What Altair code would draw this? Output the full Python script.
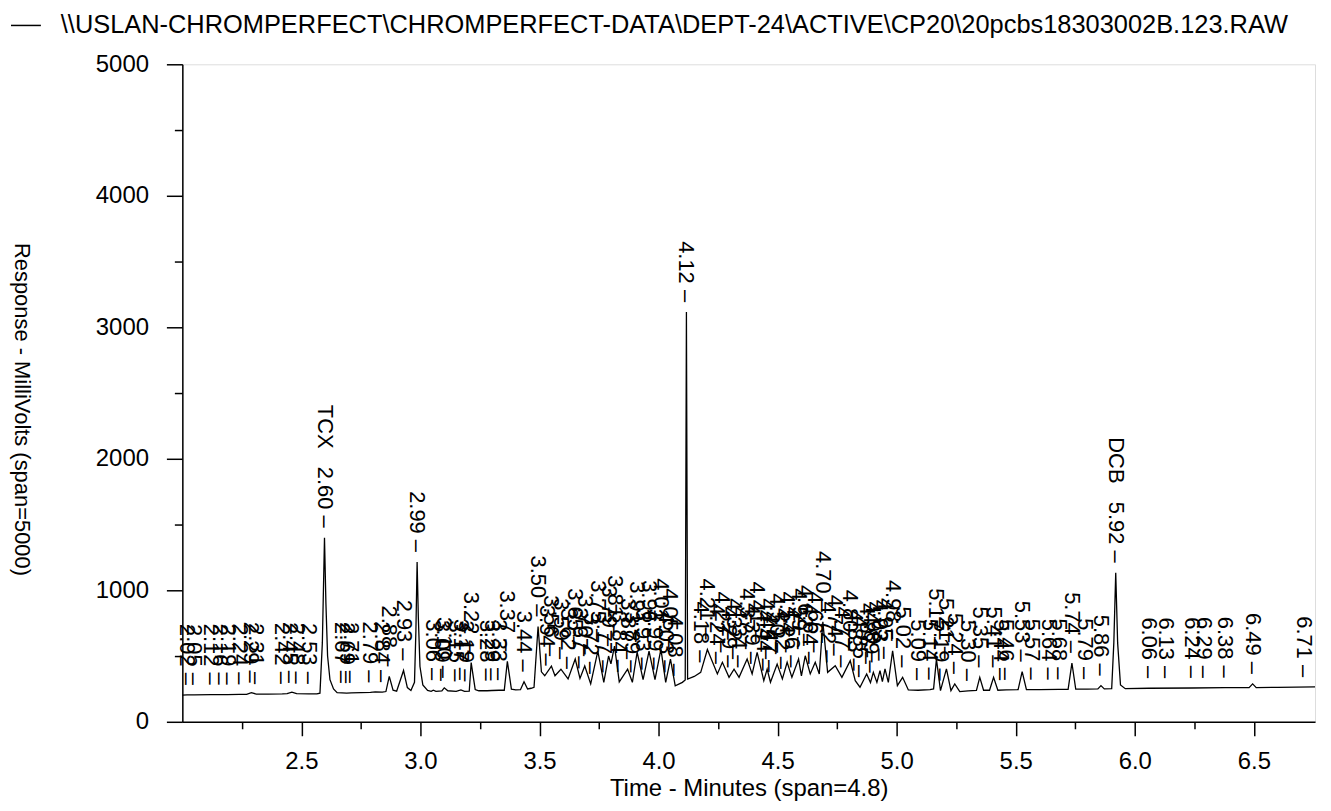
import altair as alt
import pandas as pd

# ---- chromatogram trace vertices (time in minutes, response in mV) ----
seg_a_t = [2.00, 2.02, 2.05, 2.12, 2.16, 2.19, 2.24, 2.27, 2.29, 2.31, 2.36, 2.42, 2.44, 2.46, 2.48, 2.53, 2.565]
seg_a_mv = [203, 204, 205, 206, 207, 207, 208, 209, 222, 211, 210, 212, 214, 226, 214, 213, 212]

seg_b_t = [2.578, 2.588, 2.597, 2.603, 2.61, 2.62, 2.635, 2.65, 2.67, 2.69, 2.71, 2.75, 2.79, 2.81, 2.84,
           2.855, 2.869, 2.885, 2.90, 2.929, 2.945, 2.96, 2.975, 2.981, 2.986, 2.991, 2.998, 3.01, 3.03]
seg_b_mv = [218, 600, 1400, 900, 500, 320, 250, 222, 220, 218, 220, 222, 224, 228, 226,
            230, 345, 240, 233, 390, 260, 238, 300, 700, 1215, 800, 420, 280, 238]

seg_c_t = [3.045, 3.054, 3.065, 3.09, 3.10, 3.115, 3.15, 3.17, 3.185, 3.205, 3.213, 3.23, 3.245, 3.28, 3.30,
           3.33, 3.352, 3.365, 3.382, 3.40, 3.42, 3.435, 3.45, 3.465, 3.477]
seg_c_mv = [232, 240, 232, 235, 258, 236, 232, 242, 232, 234, 450, 245, 236, 236, 238,
            240, 240, 460, 248, 242, 244, 305, 250, 255, 262]

seg_d_t = [3.494, 3.508, 3.522, 3.55, 3.565, 3.59, 3.62, 3.65, 3.67, 3.69, 3.715, 3.745, 3.77, 3.79, 3.80,
           3.815, 3.835, 3.87, 3.89, 3.91, 3.935, 3.96, 3.985, 4.01, 4.03, 4.05, 4.07]
seg_d_mv = [725, 380, 350, 424, 350, 400, 326, 477, 330, 424, 288, 538, 300, 500, 440,
            576, 303, 400, 300, 530, 320, 538, 320, 553, 300, 477, 273]

seg_e_t = [4.10, 4.112, 4.117, 4.122, 4.15, 4.177]
seg_e_mv = [300, 318, 3116, 325, 345, 376]

seg_f_t = [4.205, 4.247, 4.268, 4.296, 4.317, 4.338, 4.372, 4.393, 4.414, 4.442, 4.456, 4.47, 4.498, 4.52,
           4.54, 4.56, 4.588, 4.60, 4.616, 4.637, 4.658, 4.675, 4.69, 4.71]
seg_f_mv = [550, 364, 452, 338, 400, 338, 477, 364, 528, 313, 400, 301, 439, 326,
            452, 338, 477, 350, 502, 364, 452, 364, 760, 376]

seg_g_t = [4.742, 4.77, 4.805, 4.826, 4.846, 4.874, 4.89, 4.902, 4.917, 4.93, 4.94, 4.951, 4.965, 4.983,
           5.003, 5.025, 5.049]
seg_g_mv = [427, 338, 465, 313, 263, 364, 298, 376, 300, 389, 305, 402, 300, 540,
            275, 338, 242]

seg_h_t = [5.09, 5.14, 5.155, 5.167, 5.184, 5.209, 5.228, 5.244, 5.265, 5.30, 5.335, 5.349, 5.365, 5.39,
           5.407, 5.425, 5.46, 5.51, 5.527, 5.545, 5.60, 5.68, 5.72, 5.736, 5.752, 5.80, 5.845, 5.858,
           5.872, 5.903, 5.912, 5.92, 5.928, 5.94, 5.96, 6.06, 6.24, 6.38, 6.48, 6.495, 6.51, 6.60, 6.757]
seg_h_mv = [240, 245, 250, 477, 237, 402, 237, 288, 230, 235, 238, 338, 240, 240,
            338, 240, 242, 245, 381, 245, 245, 246, 247, 447, 248, 248, 250, 275,
            250, 252, 600, 1134, 600, 280, 252, 255, 257, 260, 260, 288, 260, 262, 265]

# ---- peak labels ----
label_t = [2.02, 2.05, 2.12, 2.16, 2.19, 2.24, 2.29, 2.31, 2.42, 2.45, 2.48, 2.53,
           2.597, 2.67, 2.69, 2.71, 2.79, 2.84, 2.869, 2.929, 2.986,
           3.054, 3.09, 3.10, 3.15, 3.17, 3.19, 3.213, 3.28, 3.30, 3.33, 3.365, 3.435,
           3.494, 3.53, 3.55, 3.59, 3.62, 3.65, 3.67, 3.69, 3.715, 3.745, 3.77, 3.79, 3.815, 3.835,
           3.87, 3.89, 3.91, 3.935, 3.96, 3.985, 4.01, 4.03, 4.05, 4.07,
           4.117, 4.177, 4.205, 4.247, 4.268, 4.296, 4.317, 4.338, 4.372, 4.393, 4.414, 4.442, 4.456,
           4.47, 4.498, 4.52, 4.54, 4.56, 4.588, 4.616, 4.637, 4.658, 4.69, 4.71, 4.742, 4.77, 4.805,
           4.826, 4.846, 4.874, 4.89, 4.902, 4.93, 4.951, 4.983, 5.025,
           5.09, 5.14, 5.167, 5.184, 5.209, 5.244, 5.30, 5.349, 5.407, 5.44, 5.46, 5.527, 5.57, 5.64,
           5.68, 5.736, 5.79, 5.858, 5.92, 6.06, 6.13, 6.24, 6.29, 6.38, 6.495, 6.71]
label_mv = [204, 205, 206, 207, 207, 208, 222, 211, 212, 220, 214, 213,
            1400, 220, 218, 220, 224, 226, 345, 390, 1215,
            240, 235, 258, 232, 242, 232, 450, 236, 238, 240, 460, 305,
            725, 350, 424, 400, 326, 477, 330, 424, 288, 538, 300, 500, 576, 303,
            400, 300, 530, 320, 538, 320, 553, 300, 477, 273,
            3116, 376, 550, 364, 452, 338, 400, 338, 477, 364, 528, 313, 400,
            301, 439, 326, 452, 338, 477, 502, 364, 452, 760, 376, 427, 338, 465,
            313, 263, 364, 298, 376, 389, 402, 540, 338,
            240, 245, 477, 237, 402, 288, 235, 338, 338, 241, 242, 381, 245, 245,
            246, 447, 248, 275, 1134, 255, 255, 257, 258, 260, 288, 263]
label_text = ["2.02", "2.05", "2.12", "2.16", "2.19", "2.24", "2.29", "2.31", "2.42", "2.45", "2.48", "2.53",
              "TCX\u00a0\u00a0\u00a02.60", "2.67", "2.69", "2.71", "2.79", "2.84", "2.88", "2.93", "2.99",
              "3.06", "3.09", "3.10", "3.15", "3.17", "3.19", "3.22", "3.28", "3.29", "3.33", "3.37", "3.44",
              "3.50", "3.54", "3.56", "3.59", "3.62", "3.65", "3.67", "3.70", "3.72", "3.75", "3.77", "3.79",
              "3.81", "3.84", "3.87", "3.89", "3.91", "3.93", "3.96", "3.99", "4.01", "4.03", "4.05", "4.08",
              "4.12", "4.18", "4.21", "4.24", "4.27", "4.29", "4.32", "4.34", "4.37", "4.39", "4.41", "4.44",
              "4.45", "4.47", "4.50", "4.52", "4.54", "4.56", "4.59", "4.62", "4.64", "4.66", "4.70", "4.72",
              "4.74", "4.77", "4.80", "4.83", "4.85", "4.87", "4.89", "4.90", "4.93", "4.95", "4.98", "5.02",
              "5.09", "5.14", "5.17", "5.19", "5.21", "5.24", "5.30", "5.35", "5.41", "5.44", "5.46", "5.53",
              "5.57", "5.64", "5.68", "5.74", "5.79", "5.86", "DCB\u00a0\u00a0\u00a05.92", "6.06", "6.13",
              "6.24", "6.29", "6.38", "6.49", "6.71"]

x_tick_values = [2.25, 2.5, 2.75, 3.0, 3.25, 3.5, 3.75, 4.0, 4.25, 4.5, 4.75, 5.0, 5.25, 5.5, 5.75,
                 6.0, 6.25, 6.5]
y_tick_values = [0, 500, 1000, 1500, 2000, 2500, 3000, 3500, 4000, 4500, 5000]

file_name = r"\\USLAN-CHROMPERFECT\CHROMPERFECT-DATA\DEPT-24\ACTIVE\CP20\20pcbs18303002B.123.RAW"

trace_t = seg_a_t + seg_b_t + seg_c_t + seg_d_t + seg_e_t + seg_f_t + seg_g_t + seg_h_t
trace_mv = seg_a_mv + seg_b_mv + seg_c_mv + seg_d_mv + seg_e_mv + seg_f_mv + seg_g_mv + seg_h_mv

trace_df = pd.DataFrame({"t": trace_t, "mv": trace_mv, "series": file_name,
                         "order": list(range(len(trace_t)))})
label_df = pd.DataFrame({"t": label_t, "mv": label_mv, "txt": [s + " \u2013" for s in label_text]})

FONT = "Liberation Sans"

x_scale = alt.Scale(domain=[2.0, 6.757], nice=False, zero=False)
y_scale = alt.Scale(domain=[0, 5000], nice=False)

x_axis = alt.Axis(
    values=x_tick_values,
    labelExpr="datum.value % 0.5 === 0 ? format(datum.value, '.1f') : ''",
    tickSize={"condition": {"test": "datum.value % 0.5 === 0", "value": 14}, "value": 7},
    tickColor="black", tickWidth=1.5, domainColor="black", domainWidth=1.5,
    labelFontSize=24, labelFont=FONT, labelColor="black", labelPadding=14,
    labelOverlap=False, labelFlush=False, grid=False,
    title="Time - Minutes (span=4.8)", titleFontSize=24, titleFont=FONT,
    titleFontWeight="normal", titleColor="black", titleY=67, titleBaseline="middle",
)
y_axis = alt.Axis(
    values=y_tick_values, format="d",
    labelExpr="datum.value % 1000 === 0 ? datum.label : ''",
    tickSize={"condition": {"test": "datum.value % 1000 === 0", "value": 16}, "value": 8},
    tickColor="black", tickWidth=1.5, domainColor="black", domainWidth=1.5,
    labelFontSize=24, labelFont=FONT, labelColor="black", labelPadding=18,
    labelOverlap=False, labelFlush=False, grid=False,
    title="Response - MilliVolts (span=5000)", titleFontSize=22, titleFont=FONT,
    titleFontWeight="normal", titleColor="black", titleAngle=90,
    titleX=-161, titleY=346, titleAlign="center", titleBaseline="middle",
)

trace = alt.Chart(trace_df).mark_line(strokeWidth=1.3, interpolate="linear").encode(
    x=alt.X("t:Q", scale=x_scale, axis=x_axis),
    y=alt.Y("mv:Q", scale=y_scale, axis=y_axis),
    order="order:Q",
    color=alt.Color("series:N", scale=alt.Scale(range=["black"]),
                    legend=alt.Legend(orient="none", legendX=-173, legendY=-55, title=None,
                                      symbolType="stroke", symbolSize=900, symbolStrokeWidth=1.5,
                                      labelFontSize=25.5, labelFont=FONT, labelColor="black",
                                      labelLimit=0, labelOffset=19, padding=0)),
)

labels = alt.Chart(label_df).mark_text(
    angle=90, align="right", baseline="middle", dx=-10, fontSize=22, font=FONT, color="black"
).encode(
    x=alt.X("t:Q", scale=x_scale),
    y=alt.Y("mv:Q", scale=y_scale),
    text="txt:N",
)

chart = alt.layer(trace, labels).properties(
    width=1137, height=660,
    autosize=alt.AutoSizeParams(type="none"),
    padding={"left": 175, "top": 55, "right": 8, "bottom": 78},
).configure_view(stroke="black", strokeWidth=1.5).configure(font=FONT)

chart.save("out.html", embed_options={"renderer": "svg", "actions": False})
